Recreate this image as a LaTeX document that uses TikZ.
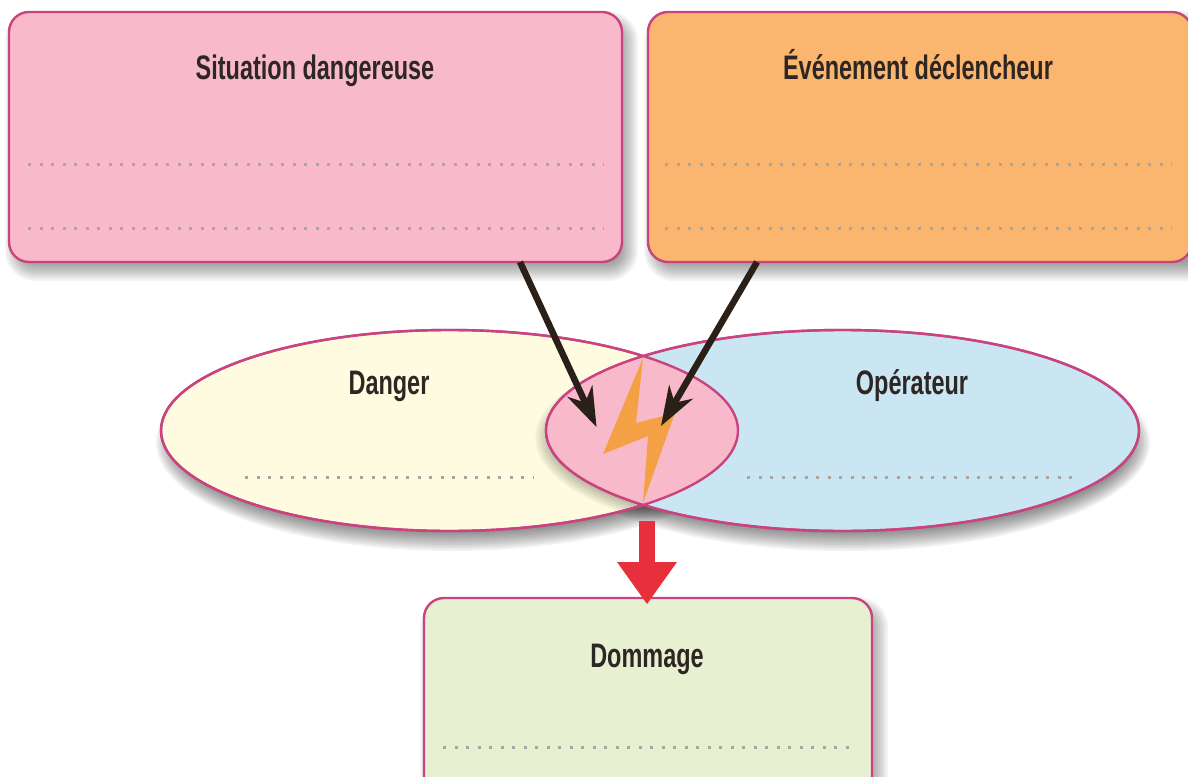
\documentclass[tikz,border=0pt]{standalone}
\usepackage{fontspec}
\setmainfont{Liberation Sans}
\newfontfamily\labelfont[FakeStretch=0.69]{Liberation Sans Bold}
\usetikzlibrary{arrows.meta,shapes.geometric}
\definecolor{edgepink}{HTML}{C9447F}
\definecolor{fillpink}{HTML}{F8BACB}
\definecolor{fillorange}{HTML}{FAB66F}
\definecolor{fillyellow}{HTML}{FEFBE0}
\definecolor{fillblue}{HTML}{C9E6F2}
\definecolor{fillgreen}{HTML}{E8F0D2}
\definecolor{boltorange}{HTML}{F4A145}
\definecolor{arrowdark}{HTML}{2A2018}
\definecolor{arrowred}{HTML}{E8303C}
\definecolor{dotgray}{HTML}{A9A5A2}
\definecolor{textdark}{HTML}{2E2623}
\tikzset{
  panel/.style={draw=edgepink,line width=2.4pt,rounded corners=20pt,inner sep=0pt,outer sep=0pt},
  oval/.style={ellipse,draw=edgepink,line width=2.4pt,inner sep=0pt,outer sep=0pt},
  heading/.style={text=textdark,font=\labelfont\fontsize{34}{38}\selectfont,inner sep=0pt,anchor=base},
  dotline/.style={draw=dotgray,line width=3pt,dash pattern=on 3pt off 8.5pt},
  darrow/.style={draw=arrowdark,line width=6.5pt,-{Stealth[length=40pt,width=28pt,inset=13pt,line width=0pt]},shorten >=0pt},
  redarrow/.style={draw=arrowred,line width=16pt,-{Stealth[length=42pt,width=60pt,inset=0pt,line width=0pt]}}
}
\newcommand{\boxshade}[5]{%
  \foreach \d in {-8,-6,...,10}{
    \pgfmathsetmacro{\rr}{#5+\d}
    \fill[black,opacity=.045,rounded corners=\rr pt]
      ({#1+6-\d},{#2+9-\d}) rectangle ({#3+6+\d},{#4+9+\d});
  }}
\newcommand{\ovalshade}[4]{%
  \foreach \d in {-10,-8,...,8}{
    \pgfmathsetmacro{\ax}{#3+\d}
    \pgfmathsetmacro{\ay}{#4+\d}
    \fill[black,opacity=.05] ({#1+3},{#2+12}) ellipse [x radius=\ax pt,y radius=\ay pt];
  }}
\begin{document}
\begin{tikzpicture}[x=1pt,y=-1pt]
\path[use as bounding box,clip] (0,0) rectangle (1188,776);
\fill[white] (0,0) rectangle (1188,776);
% shadows
\boxshade{9}{12}{622}{262}{20}
\boxshade{648}{12}{1200}{262}{20}
\boxshade{424}{598}{872}{800}{20}
\ovalshade{449.5}{430.5}{288.5}{100.5}
\ovalshade{842.5}{430.5}{296.5}{100.5}
% panels
\node[panel,fill=fillpink,minimum width=613pt,minimum height=250pt] (situation) at (315.5,137) {};
\node[panel,fill=fillorange,minimum width=544pt,minimum height=250pt,anchor=west] (evenement) at (648,137) {};
\node[panel,fill=fillgreen,minimum width=448pt,minimum height=202pt] (dommage) at (648,699) {};
% ovals
\node[oval,fill=fillyellow,minimum width=577pt,minimum height=201pt] (danger) at (449.5,430.5) {};
\node[oval,fill=fillblue,minimum width=593pt,minimum height=201pt] (operateur) at (842.5,430.5) {};
\begin{scope}
  \clip (449.5,430.5) ellipse [x radius=288.5pt,y radius=100.5pt];
  \foreach \d in {-6,-3,...,6}{
    \fill[black,opacity=.05] (838,{438}) ellipse [x radius={296.5pt+\d pt},y radius={100.5pt+\d pt}];
  }
  \fill[fillpink] (842.5,430.5) ellipse [x radius=296.5pt,y radius=100.5pt];
\end{scope}
\draw[edgepink,line width=2.4pt] (449.5,430.5) ellipse [x radius=288.5pt,y radius=100.5pt];
\draw[edgepink,line width=2.4pt] (842.5,430.5) ellipse [x radius=296.5pt,y radius=100.5pt];
% bolt
\fill[boltorange] (643,358) -- (603,454) -- (648,436) -- (643,503) -- (675,413) -- (636,423) -- cycle;
% headings
\node[heading] (t1) at (315,80) {Situation dangereuse};
\node[heading] (t2) at (918,80) {Événement déclencheur};
\node[heading] (t3) at (389,394) {Danger};
\node[heading] (t4) at (912,394) {Opérateur};
\node[heading] (t5) at (647,667) {Dommage};
% dotted rules
\draw[dotline] (28,164) -- (604,164);
\draw[dotline] (28,228) -- (604,228);
\draw[dotline] (665,164) -- (1172,164);
\draw[dotline] (665,228) -- (1172,228);
\draw[dotline] (245,477) -- (534,477);
\draw[dotline] (747,477) -- (1078,477);
\draw[dotline] (443,747) -- (853,747);
% connectors
\coordinate (a1) at (520,262);
\coordinate (a1e) at (596.5,427);
\coordinate (a2) at (757,262);
\coordinate (a2e) at (661,426);
\coordinate (r1) at (647,521);
\coordinate (r1e) at (647,604);
\draw[darrow] (a1) -- (a1e);
\draw[darrow] (a2) -- (a2e);
\draw[redarrow] (r1) -- (r1e);
\end{tikzpicture}
\end{document}
